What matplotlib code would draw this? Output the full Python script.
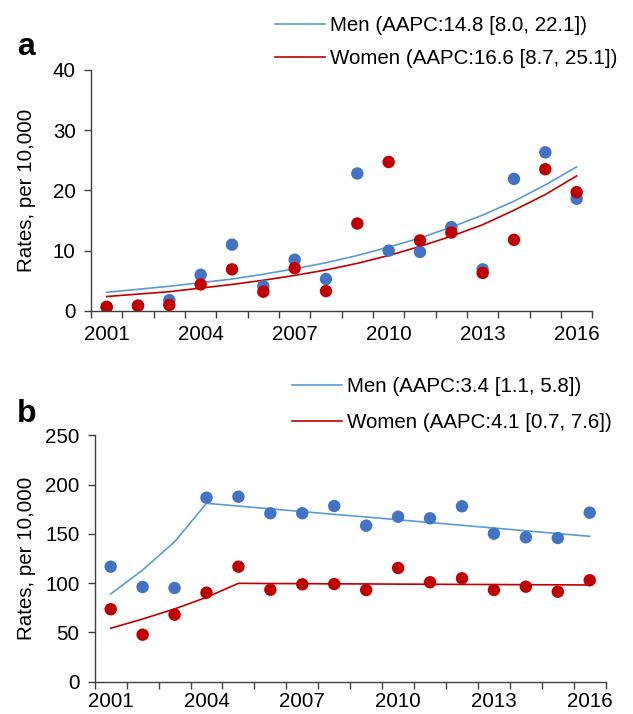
import matplotlib
matplotlib.use("Agg")
import matplotlib.pyplot as plt
import numpy as np

plt.rcParams['font.family'] = ['Liberation Sans', 'DejaVu Sans']

years = [2001, 2002, 2003, 2004, 2005, 2006, 2007, 2008,
         2009, 2010, 2011, 2012, 2013, 2014, 2015, 2016]
tick_labels = ['2001', '2004', '2007', '2010', '2013', '2016']

# Panel a
a_men = [0.6, 0.8, 1.8, 6.0, 11.0, 4.1, 8.5, 5.3, 22.8, 10.0, 9.8, 13.9, 6.9, 21.9, 26.3, 18.6]
a_women = [0.7, 0.9, 1.0, 4.4, 6.9, 3.2, 7.1, 3.3, 14.5, 24.7, 11.7, 13.0, 6.3, 11.8, 23.5, 19.7]
a_men_fit = [3.1, 3.6, 4.1, 4.7, 5.3, 6.1, 7.0, 8.0, 9.2, 10.6, 12.1, 13.9, 15.9, 18.2, 20.9, 23.9]
a_women_fit = [2.4, 2.8, 3.2, 3.8, 4.4, 5.1, 5.9, 6.8, 7.9, 9.2, 10.7, 12.4, 14.3, 16.7, 19.3, 22.4]
a_labels = ['Men (AAPC:14.8 [8.0, 22.1])', 'Women (AAPC:16.6 [8.7, 25.1])']

# Panel b
b_men = [116.7, 96.1, 95.1, 186.7, 187.7, 170.9, 170.9, 178.3, 158.3, 167.4, 165.8, 178.0, 150.2, 146.5, 145.8, 171.5]
b_women = [73.5, 47.7, 68.0, 90.3, 116.7, 93.3, 98.8, 99.1, 93.0, 115.4, 100.9, 104.9, 93.0, 96.4, 91.3, 102.9]
b_men_fit = [89.0, 113.3, 142.0, 181.0, 178.2, 175.4, 172.6, 169.8, 167.1, 164.3, 161.5, 158.7, 155.9, 153.1, 150.3, 147.5]
b_women_fit = [54.2, 63.6, 73.8, 85.6, 99.8, 99.6, 99.5, 99.3, 99.2, 99.0, 98.9, 98.7, 98.6, 98.4, 98.3, 98.1]
b_labels = ['Men (AAPC:3.4 [1.1, 5.8])', 'Women (AAPC:4.1 [0.7, 7.6])']

BLUE_DOT = '#4472C4'
RED_DOT = '#C00000'
BLUE_LINE = '#5B9BD5'
RED_LINE = '#C00000'
SPINE = '#404040'
FS = 14.8

W, H = 633, 714
fig = plt.figure(figsize=(W / 100, H / 100), dpi=100)


def px_axes(l, r, t, b):
    return fig.add_axes([l / W, 1 - b / H, (r - l) / W, (b - t) / H])


def draw(ax, men, women, men_fit, women_fit, ymax, ystep, labels, leg_xy,
         labelspacing, ylab_x, xpad):
    x = np.arange(len(years))
    l1, = ax.plot(x, men_fit, color=BLUE_LINE, lw=1.2, zorder=2)
    l2, = ax.plot(x, women_fit, color=RED_LINE, lw=1.2, zorder=2)
    ax.scatter(x, men, s=80, color=BLUE_DOT, edgecolors='none', zorder=3)
    ax.scatter(x, women, s=80, color=RED_DOT, edgecolors='none', zorder=4)
    ax.set_xlim(-0.5, len(years) - 0.5)
    ax.set_ylim(0, ymax)
    ax.set_yticks(np.arange(0, ymax + 1, ystep))
    ax.set_xticks(np.arange(-0.5, len(years), 1.0))
    ax.set_xticklabels([])
    lab_pos = [years.index(int(t)) for t in tick_labels]
    ax.set_xticks(lab_pos, minor=True)
    ax.set_xticklabels(tick_labels, minor=True)
    ax.tick_params(axis='x', which='major', direction='out', length=5, width=1, color=SPINE)
    ax.tick_params(axis='x', which='minor', length=0, pad=xpad, labelsize=FS)
    ax.tick_params(axis='y', direction='out', length=5, width=1, color=SPINE, pad=6.0, labelsize=FS)
    for s in ['top', 'right']:
        ax.spines[s].set_visible(False)
    for s in ['left', 'bottom']:
        ax.spines[s].set_color(SPINE)
        ax.spines[s].set_linewidth(1.0)
    ax.set_ylabel('Rates, per 10,000', fontsize=FS)
    ax.yaxis.set_label_coords(ylab_x, 0.5)
    ax.patch.set_visible(False)
    fig.legend([l1, l2], labels, loc='upper left',
               bbox_to_anchor=(leg_xy[0] / W, 1 - leg_xy[1] / H),
               bbox_transform=fig.transFigure, frameon=False, fontsize=FS,
               handlelength=2.45, handletextpad=0.25, borderpad=0, borderaxespad=0,
               labelspacing=labelspacing)


axa = px_axes(91, 592.3, 69.7, 311)
draw(axa, a_men, a_women, a_men_fit, a_women_fit, 40, 10, a_labels, (275, 16),
     0.68, -0.11, 10)
axb = px_axes(94.7, 605.7, 435.3, 681.7)
draw(axb, b_men, b_women, b_men_fit, b_women_fit, 250, 50, b_labels, (291.7, 377),
     0.82, -0.115, 7.5)

fig.text(17 / W, 1 - 47 / H, 'a', fontsize=23, fontweight='bold', va='center', ha='left')
fig.text(17 / W, 1 - 414 / H, 'b', fontsize=23, fontweight='bold', va='center', ha='left')

fig.savefig('out.png', dpi=100)
